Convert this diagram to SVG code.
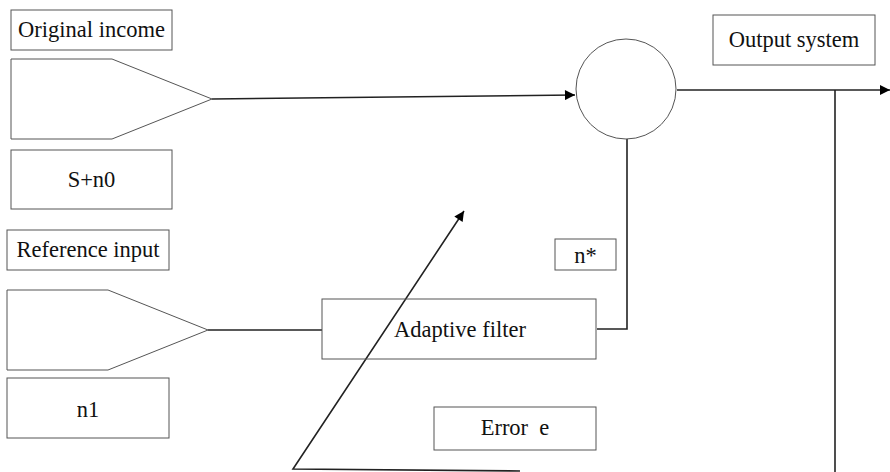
<svg xmlns="http://www.w3.org/2000/svg" width="890" height="472" viewBox="0 0 890 472">
<defs>
<style>
.box{fill:#fff;stroke:#555;stroke-width:1}
.ln{fill:none;stroke:#222;stroke-width:1.6}
text{font-size:22.5px;fill:#111;text-anchor:middle}
</style>
<marker id="ah" viewBox="0 0 10 10" refX="10" refY="5" markerWidth="14" markerHeight="10" markerUnits="userSpaceOnUse" orient="auto">
<path d="M0,0 L10,5 L0,10 z" fill="#000"/>
</marker>
</defs>
<rect width="890" height="472" fill="#fff"/>
<g id="connectors">
<line class="ln" x1="212" y1="99" x2="575" y2="95" marker-end="url(#ah)"/>
<line class="ln" x1="677" y1="90" x2="890" y2="90" marker-end="url(#ah)"/>
<line class="ln" x1="835" y1="90" x2="835" y2="472"/>
<polyline class="ln" points="627,139 627,329 597,329"/>
<line class="ln" x1="208" y1="330" x2="322" y2="330"/>
<polyline class="ln" points="520,471 293,469 464,211" marker-end="url(#ah)"/>
</g>
<g font-family="Liberation Serif, Times New Roman, serif">
<g id="original-income"><rect class="box" x="11" y="10" width="161" height="40"/><text x="91.5" y="37">Original income</text></g>
<g id="input1"><polygon class="box" points="11,59 112,59 212,99 112,139 11,139"/></g>
<g id="s-n0"><rect class="box" x="11" y="150" width="161" height="59"/><text x="91.5" y="187">S+n0</text></g>
<g id="sum"><circle class="box" cx="626" cy="89" r="50"/></g>
<g id="output-system"><rect class="box" x="713" y="15" width="162" height="50"/><text x="794" y="47">Output system</text></g>
<g id="reference-input"><rect class="box" x="7" y="230" width="162" height="40"/><text x="88" y="257">Reference input</text></g>
<g id="input2"><polygon class="box" points="7,290 108,290 208,330 108,370 7,370"/></g>
<g id="n1"><rect class="box" x="7" y="378" width="162" height="60"/><text x="88" y="417">n1</text></g>
<g id="n-star"><rect class="box" x="555" y="239" width="61" height="31"/><text x="585.5" y="263">n*</text></g>
<g id="adaptive-filter"><rect class="box" x="322" y="299" width="274" height="60" style="fill:none"/><text x="460" y="337">Adaptive filter</text></g>
<g id="error-e"><rect class="box" x="434" y="407" width="162" height="43"/><text x="515" y="435" xml:space="preserve">Error  e</text></g>
</g>
</svg>
